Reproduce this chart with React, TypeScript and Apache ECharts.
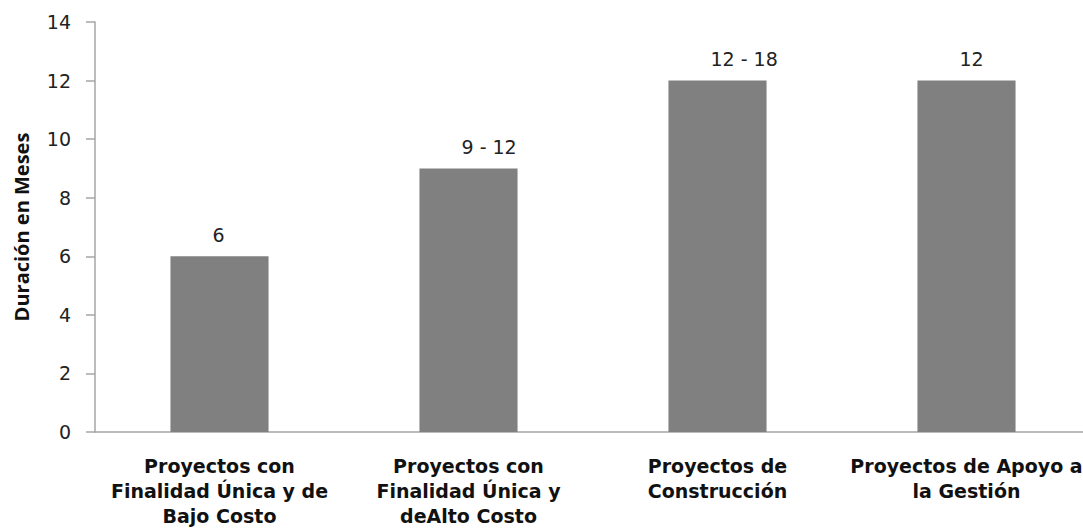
import React, { useEffect, useRef } from "react";
import * as echarts from "echarts";

const categories = [
  "Proyectos con\nFinalidad Única y de\nBajo Costo",
  "Proyectos con\nFinalidad Única y\ndeAlto Costo",
  "Proyectos de\nConstrucción",
  "Proyectos de Apoyo a\nla Gestión",
];
const values = [6, 9, 12, 12];
const valueLabels = ["6", "9 - 12", "12 - 18", "12"];
const yAxisName = "Duración en Meses";

export default function App() {
  const ref = useRef<HTMLDivElement>(null);
  useEffect(() => {
    if (!ref.current) return;
    const chart = echarts.init(ref.current, null, { renderer: "svg" });
    const font = "'DejaVu Sans', sans-serif";
    const boldFont = "'Open Sans', 'DejaVu Sans', sans-serif";
    chart.setOption({
      animation: false,
      backgroundColor: "#ffffff",
      textStyle: { fontFamily: font },
      grid: { left: 95, right: 9, top: 22, bottom: 99, containLabel: false },
      xAxis: {
        type: "category",
        data: categories,
        axisLine: { show: true, lineStyle: { color: "#A6A6A6", width: 1.5 } },
        axisTick: { show: false },
        axisLabel: {
          interval: 0,
          margin: 21,
          fontSize: 19,
          fontWeight: "bold",
          lineHeight: 25,
          color: "#111111",
          fontFamily: font,
        },
      },
      yAxis: {
        type: "value",
        min: 0,
        max: 14,
        interval: 2,
        name: yAxisName,
        nameLocation: "middle",
        nameGap: 64,
        nameTextStyle: { fontSize: 20, fontWeight: "bold", color: "#111111", fontFamily: boldFont },
        axisLine: { show: true, lineStyle: { color: "#A6A6A6", width: 1.5 } },
        axisTick: { show: true, length: 9, lineStyle: { color: "#A6A6A6", width: 1.5 } },
        splitLine: { show: false },
        axisLabel: { fontSize: 19, color: "#222222", margin: 24, fontFamily: font },
      },
      series: [
        {
          type: "bar",
          data: values,
          barWidth: "39.4%",
          itemStyle: { color: "#808080" },
          label: {
            show: true,
            position: "top",
            distance: 12,
            align: "left",
            offset: [-7, 0],
            fontSize: 19,
            color: "#222222",
            fontFamily: font,
            formatter: (p: any) => valueLabels[p.dataIndex],
          },
        },
      ],
    });
    return () => chart.dispose();
  }, []);
  return (
    <div
      ref={ref}
      style={{ position: "fixed", left: 0, top: 0, width: 1100, height: 531, background: "#fff" }}
    />
  );
}
